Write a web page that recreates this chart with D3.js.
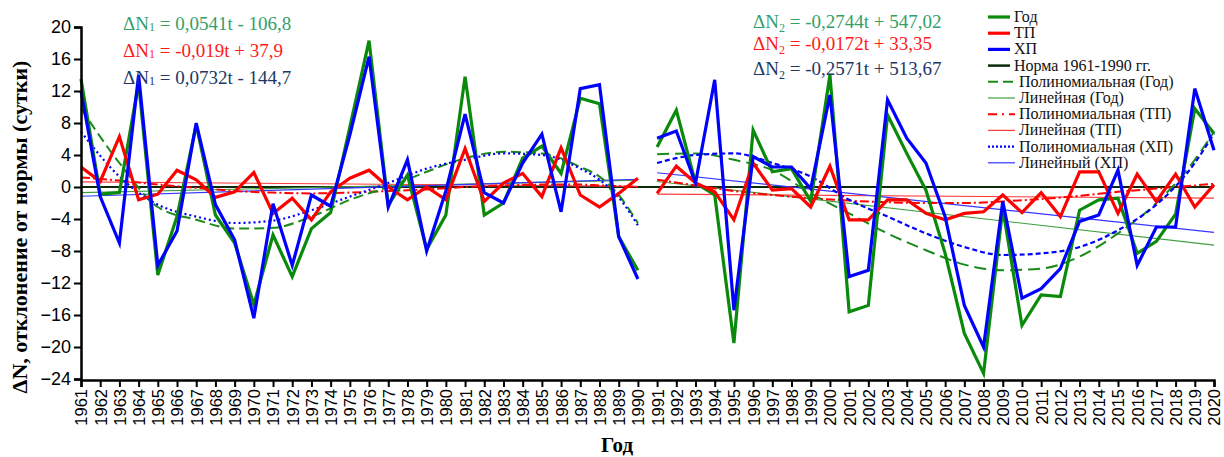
<!DOCTYPE html>
<html>
<head>
<meta charset="utf-8">
<script src="https://d3js.org/d3.v7.min.js"></script>
<style>
  body { margin: 0; background: #fff; }
  .tick text { font-family: "Liberation Sans", Arial, sans-serif; fill: #000; }
  .serif { font-family: "Liberation Serif", "Times New Roman", serif; }
</style>
</head>
<body>
<svg id="chart" width="1224" height="457"></svg>
<script>
// years on the x axis
var years = d3.range(1961, 2021);
var yTicks = [-24, -20, -16, -12, -8, -4, 0, 4, 8, 12, 16, 20];

// deviations from the 1961-1990 norm (days)
var god = [13.5, -0.9, -0.7, 13.0, -11.0, -3.7, 7.8, -3.5, -7.0, -14.7,
           -6.0, -11.2, -5.2, -3.2, 7.5, 18.3, -2.3, 1.5, -7.8, -3.5,
           13.8, -3.5, -2.0, 3.6, 5.1, 1.7, 11.1, 10.4, -6.2, -10.4,
           5.0, 9.6, 0.5, -1.0, -19.5, 7.1, 1.9, 2.3, -1.8, 14.0,
           -15.6, -14.8, 9.0, 4.2, -0.4, -8.3, -18.3, -23.3, -2.7, -17.3,
           -13.5, -13.7, -2.9, -1.6, -1.4, -8.3, -6.8, -3.4, 9.8, 6.7];
var tp  = [2.5, 0.7, 6.3, -1.6, -0.9, 2.1, 0.9, -1.3, -0.6, 1.8,
           -3.3, -1.4, -4.1, -0.6, 1.1, 2.1, 0.0, -1.6, 0.0, -1.6,
           4.8, -1.8, 0.5, 1.7, -1.2, 4.9, -1.0, -2.5, -0.8, 1.1,
           -0.8, 2.6, 0.5, -0.6, -4.1, 3.0, -0.4, -0.2, -2.5, 2.6,
           -4.1, -4.1, -1.6, -1.6, -3.3, -4.1, -3.3, -3.1, -1.0, -3.2,
           -0.7, -3.7, 1.9, 1.9, -3.3, 1.6, -1.8, 1.6, -2.5, 0.3];
var xp  = [12.0, -1.2, -7.0, 14.0, -9.8, -5.5, 8.0, -2.2, -6.6, -16.4,
           -2.1, -9.8, -1.0, -2.4, 6.5, 16.3, -2.5, 3.4, -8.0, -0.5,
           9.1, -0.7, -2.0, 3.0, 6.6, -3.1, 12.3, 12.8, -6.2, -11.5,
           6.1, 7.0, 0.5, 13.4, -15.4, 3.8, 2.5, 2.5, -0.2, 11.5,
           -11.2, -10.4, 10.9, 6.1, 3.0, -3.7, -14.8, -20.0, -1.8, -13.9,
           -12.7, -10.2, -4.3, -3.5, 2.1, -9.8, -5.0, -5.0, 12.3, 4.6];

// polynomial trend curves
var polyYears1 = [1961, 1963, 1965, 1967, 1969, 1971, 1973, 1975, 1977, 1979, 1981, 1983, 1985, 1987, 1988, 1989, 1990];
var polyGod1 = [9.8, 3.0, -2.5, -4.1, -5.2, -5.1, -3.7, -1.6, 0.0, 1.9, 3.6, 4.4, 4.2, 2.5, 1.3, -1.0, -4.5];
var polyTp1  = [1.2, 0.8, 0.3, -0.1, -0.5, -0.7, -0.8, -0.7, -0.5, -0.3, 0.0, 0.2, 0.3, 0.3, 0.2, 0.1, 0.0];
var polyXp1  = [6.9, 1.3, -2.2, -3.7, -4.5, -4.2, -2.9, -1.2, 0.5, 2.3, 3.4, 4.2, 4.0, 2.3, 0.9, -1.3, -4.8];
var polyYears2 = [1991, 1993, 1995, 1997, 1999, 2001, 2003, 2005, 2007, 2009, 2011, 2013, 2015, 2017, 2019, 2020];
var polyGod2 = [4.1, 4.2, 3.4, 2.1, -0.8, -3.3, -5.8, -7.9, -9.7, -10.4, -10.2, -8.7, -5.8, -2.0, 3.4, 6.9];
var polyTp2  = [0.9, 0.2, -0.5, -1.0, -1.4, -1.7, -1.9, -2.0, -2.0, -1.8, -1.5, -1.1, -0.6, -0.2, 0.2, 0.4];
var polyXp2  = [3.0, 4.0, 4.2, 3.0, 1.3, -1.6, -3.7, -5.8, -7.5, -8.5, -8.3, -7.5, -5.4, -2.2, 3.0, 6.7];

// linear trends: slope, intercept (Год, ТП, ХП)
var linSlope1 = [0.0541, -0.019, 0.0732];
var linInter1 = [-106.8, 37.9, -144.7];
var linSlope2 = [-0.2744, -0.0172, -0.2571];
var linInter2 = [547.02, 33.35, 513.67];
var eqText1 = [" = 0,0541t - 106,8", " = -0,019t + 37,9", " = 0,0732t - 144,7"];
var eqText2 = [" = -0,2744t + 547,02", " = -0,0172t + 33,35", " = -0,2571t + 513,67"];

var legendLabels = ["Год", "ТП", "ХП", "Норма 1961-1990 гг.", "Полиномиальная (Год)", "Линейная (Год)",
                    "Полиномиальная (ТП)", "Линейная (ТП)", "Полиномиальная (ХП)", "Линейный (ХП)"];

var cGreen = "#0a8a0a", cRed = "#ff0000", cBlue = "#0000ff", cNorm = "#0b2a0b";

var svg = d3.select("#chart");
svg.append("rect").attr("width", 1224).attr("height", 457).attr("fill", "#fff");

var x = d3.scaleLinear().domain([1961, 2020]).range([81, 1214]);
var y = d3.scaleLinear().domain([-24, 20]).range([379, 27]);

var periods = [[0, 30], [30, 60]];

// norm line
svg.append("line")
  .attr("x1", x(1961)).attr("x2", x(2020))
  .attr("y1", y(0)).attr("y2", y(0))
  .attr("stroke", cNorm).attr("stroke-width", 2);

// linear trends
var linColors = ["#3f9f3f", "#ff3b3b", "#3535ff"];
[[linSlope1, linInter1, 1961, 1990], [linSlope2, linInter2, 1991, 2020]].forEach(function(p) {
  for (var k = 0; k < 3; k++) {
    svg.append("line")
      .attr("x1", x(p[2])).attr("x2", x(p[3]))
      .attr("y1", y(p[0][k] * p[2] + p[1][k]))
      .attr("y2", y(p[0][k] * p[3] + p[1][k]))
      .attr("stroke", linColors[k]).attr("stroke-width", 1.2);
  }
});

// polynomial trends
var curve = d3.line().x(function(d) { return x(d[0]); }).y(function(d) { return y(d[1]); })
  .curve(d3.curveMonotoneX);
function poly(yrs, vals, color, dash, w) {
  svg.append("path")
    .datum(yrs.map(function(t, i) { return [t, vals[i]]; }))
    .attr("d", curve)
    .attr("fill", "none").attr("stroke", color)
    .attr("stroke-width", w).attr("stroke-dasharray", dash);
}
poly(polyYears1, polyTp1, cRed, "9,3,2,3", 2);
poly(polyYears2, polyTp2, cRed, "9,3,2,3", 2);
poly(polyYears1, polyGod1, "#1a8a1a", "10,5", 2);
poly(polyYears2, polyGod2, "#1a8a1a", "12,6", 2);
poly(polyYears1, polyXp1, cBlue, "2,3", 2.2);
poly(polyYears2, polyXp2, cBlue, "5,3", 2.2);

// data lines
var line = d3.line().x(function(d) { return x(d[0]); }).y(function(d) { return y(d[1]); });
[[god, cGreen], [tp, cRed], [xp, cBlue]].forEach(function(s) {
  periods.forEach(function(p) {
    var pts = [];
    for (var i = p[0]; i < p[1]; i++) pts.push([years[i], s[0][i]]);
    svg.append("path").datum(pts).attr("d", line)
      .attr("fill", "none").attr("stroke", s[1])
      .attr("stroke-width", 3.2).attr("stroke-linejoin", "miter");
  });
});

// axes
var yAxis = svg.append("g").attr("transform", "translate(" + x(1961) + ",0)")
  .call(d3.axisLeft(y).tickValues(yTicks).tickSize(7).tickPadding(3).tickFormat(d3.format("d")));
yAxis.selectAll("text").style("font-size", "18px");
var xAxis = svg.append("g").attr("transform", "translate(0," + (y(-24) + 1) + ")")
  .call(d3.axisBottom(x).tickValues(years).tickSize(7).tickFormat(d3.format("d")));
xAxis.selectAll("text")
  .style("font-size", "16.5px").style("text-anchor", "end")
  .attr("transform", "rotate(-90)").attr("x", -9).attr("y", 0).attr("dy", "0.36em");
svg.selectAll(".domain").attr("stroke", "#000").attr("stroke-width", 2.5);
svg.selectAll(".tick line").attr("stroke", "#000").attr("stroke-width", 2);

// axis titles
svg.append("text").attr("class", "serif")
  .attr("transform", "translate(27,227) rotate(-90)")
  .attr("text-anchor", "middle")
  .style("font-size", "22px").style("font-weight", "bold")
  .text("ΔN, отклонение от нормы (сутки)");
svg.append("text").attr("class", "serif")
  .attr("x", 617).attr("y", 452).attr("text-anchor", "middle")
  .style("font-size", "21px").style("font-weight", "bold")
  .text("Год");

// equations
var eqColors = ["#33a06a", "#ff1a1a", "#203864"];
var eqY2 = [28, 50, 75];
function equation(x0, y0, sub, txt, color, subDy) {
  var t = svg.append("text").attr("class", "serif").attr("x", x0).attr("y", y0)
    .style("font-size", "19px").attr("fill", color);
  t.append("tspan").text("ΔN");
  t.append("tspan").attr("dy", subDy).style("font-size", "12px").text(sub);
  t.append("tspan").attr("dy", -subDy).text(txt);
}
for (var k = 0; k < 3; k++) {
  equation(123, 30 + k * 27, "1", eqText1[k], eqColors[k], 1);
  equation(753, eqY2[k], "2", eqText2[k], eqColors[k], 4);
}

// legend
var legendSamples = [
  {c: cGreen, w: 3.2, d: null, len: 22},
  {c: cRed, w: 3.2, d: null, len: 22},
  {c: cBlue, w: 3.2, d: null, len: 22},
  {c: cNorm, w: 2.5, d: null, len: 22},
  {c: "#1a8a1a", w: 2, d: "10,5", len: 27},
  {c: "#3f9f3f", w: 1.2, d: null, len: 27},
  {c: cRed, w: 2, d: "9,5,2,5", len: 27},
  {c: "#ff3b3b", w: 1.2, d: null, len: 27},
  {c: cBlue, w: 2.2, d: "2,2", len: 27},
  {c: "#3535ff", w: 1.2, d: null, len: 27}
];
var lg = svg.append("g");
legendLabels.forEach(function(lab, i) {
  var ly = 17 + i * 16.2;
  var s = legendSamples[i];
  lg.append("line").attr("x1", 988).attr("x2", 988 + s.len)
    .attr("y1", ly).attr("y2", ly)
    .attr("stroke", s.c).attr("stroke-width", s.w)
    .attr("stroke-dasharray", s.d);
  lg.append("text").attr("class", "serif")
    .attr("x", i < 4 ? 1014 : 1019).attr("y", ly + 5)
    .style("font-size", "16px").attr("fill", "#111")
    .text(lab);
});
</script>
</body>
</html>
